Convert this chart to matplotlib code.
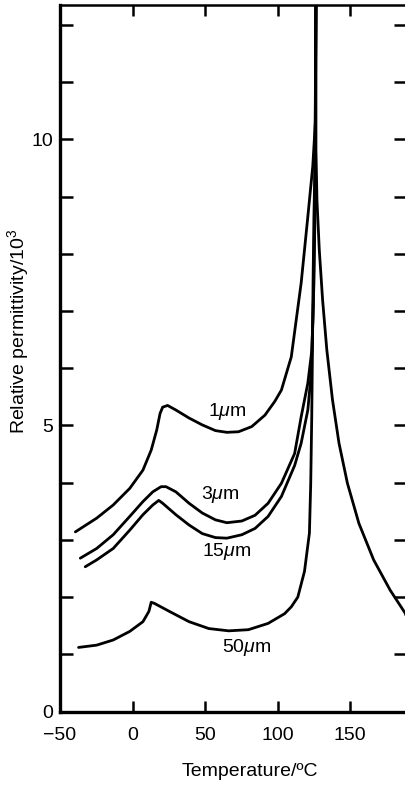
import numpy as np
from matplotlib import pyplot as plt
from matplotlib.ticker import MultipleLocator

plt.rcParams['font.family'] = ['Liberation Sans', 'DejaVu Sans']
plt.rcParams['mathtext.fontset'] = 'custom'
plt.rcParams['mathtext.it'] = 'Liberation Sans:italic'
plt.rcParams['mathtext.rm'] = 'Liberation Sans'

# ferroelectric branches (temperature in C, permittivity / 10^3)
t_1um = [-39.4, -24.7, -13.3, -1.9, 7.2, 12.9, 16.7, 19.0, 20.8, 24.2, 29.9, 39.0,
         48.1, 57.2, 65.1, 73.1, 82.2, 91.3, 98.1, 102.7, 109.5, 116.3, 120.9,
         124.3, 126.1, 126.5]
e_1um = [3.14, 3.38, 3.61, 3.90, 4.22, 4.57, 4.92, 5.21, 5.32, 5.35, 5.27, 5.13,
         5.01, 4.91, 4.88, 4.89, 4.98, 5.18, 5.42, 5.62, 6.2, 7.49, 8.65,
         9.53, 10.3, 12.5]

t_3um = [-36.0, -24.7, -13.3, -1.9, 7.2, 14.0, 19.7, 23.1, 29.9, 39.0, 48.1, 57.2,
         65.1, 75.4, 84.5, 93.5, 102.7, 111.8, 116.3, 120.9, 123.7, 125.1, 126.0, 126.5]
e_3um = [2.68, 2.85, 3.09, 3.41, 3.67, 3.84, 3.93, 3.93, 3.84, 3.64, 3.47, 3.35,
         3.30, 3.33, 3.43, 3.64, 3.99, 4.51, 5.15, 5.74, 6.32, 7.49, 9.0, 12.5]

t_15um = [-32.6, -24.7, -13.3, -1.9, 7.2, 14.0, 18.1, 20.8, 29.9, 39.0, 48.1, 57.2,
          65.1, 75.4, 84.5, 93.5, 102.7, 111.8, 116.3, 120.9, 123.0, 124.5, 125.8, 126.5]
e_15um = [2.53, 2.65, 2.85, 3.17, 3.44, 3.61, 3.69, 3.64, 3.44, 3.26, 3.11, 3.04,
          3.03, 3.09, 3.20, 3.41, 3.76, 4.30, 4.69, 5.27, 5.85, 6.9, 9.0, 12.5]

t_50um = [-37.2, -24.7, -13.3, -1.9, 7.2, 11.3, 12.9, 15.1, 25.4, 39.0, 52.6, 66.3,
          79.9, 93.5, 104.9, 109.5, 114.0, 118.6, 122.0, 122.9, 123.6, 124.1,
          124.5, 125.1, 125.8, 126.5]
e_50um = [1.12, 1.16, 1.25, 1.40, 1.57, 1.75, 1.91, 1.89, 1.75, 1.57, 1.45, 1.41,
          1.43, 1.54, 1.71, 1.83, 2.00, 2.45, 3.12, 3.99, 5.15, 6.32,
          7.49, 8.65, 9.53, 12.5]

# paraelectric branch, common to all grain sizes
t_para = [126.5, 126.5, 127.2, 128.8, 131.1, 134.0, 137.9, 142.4, 148.2, 156.1,
          166.3, 177.7, 188.0, 188.6]
e_para = [12.5, 9.82, 8.94, 8.07, 7.19, 6.32, 5.45, 4.69, 3.99, 3.29,
          2.65, 2.12, 1.72, 1.68]

labels = ["1$\\mu$m", "3$\\mu$m", "15$\\mu$m", "50$\\mu$m"]
label_pos = [(65.1, 5.25), (60.3, 3.80), (65.1, 2.79), (78.8, 1.12)]

fig = plt.figure(figsize=(4.06, 7.85), dpi=100)
ax = fig.add_axes([60 / 406, 73.5 / 785, 1 - 60 / 406, 706.5 / 785])

for t, e in [(t_1um, e_1um), (t_3um, e_3um), (t_15um, e_15um), (t_50um, e_50um), (t_para, e_para)]:
    ax.plot(t, e, color='black', lw=2.0, solid_joinstyle='round', solid_capstyle='round')

for lab, (x, y) in zip(labels, label_pos):
    ax.text(x, y, lab, fontsize=14, ha='center', va='center')

ax.set_xlim(-47.4, 188.6)
ax.set_ylim(0, 12.35)
ax.set_xticks([-50, 0, 50, 100, 150])
ax.set_xticklabels(["\u221250", "0", "50", "100", "150"])
ax.set_yticks([0, 5, 10])
ax.yaxis.set_minor_locator(MultipleLocator(1))

ax.spines['right'].set_visible(False)
ax.spines['left'].set_linewidth(2.4)
ax.spines['bottom'].set_linewidth(2.4)
ax.spines['top'].set_linewidth(1.8)

ax.tick_params(axis='both', which='both', direction='in', width=1.8, labelsize=14,
               top=True, right=True)
ax.tick_params(axis='y', which='both', length=9, pad=5)
ax.tick_params(axis='x', which='major', length=8, pad=11)

# axis titles placed where they sit in the original
fig.text(250 / 406, 1 - 772 / 785, "Temperature/\u00baC", fontsize=14,
         ha='center', va='center')
fig.text(18 / 406, 1 - 331 / 785, "Relative permittivity/10$^3$", fontsize=14,
         rotation=90, ha='center', va='center')

fig.savefig("out.png", dpi=100)
